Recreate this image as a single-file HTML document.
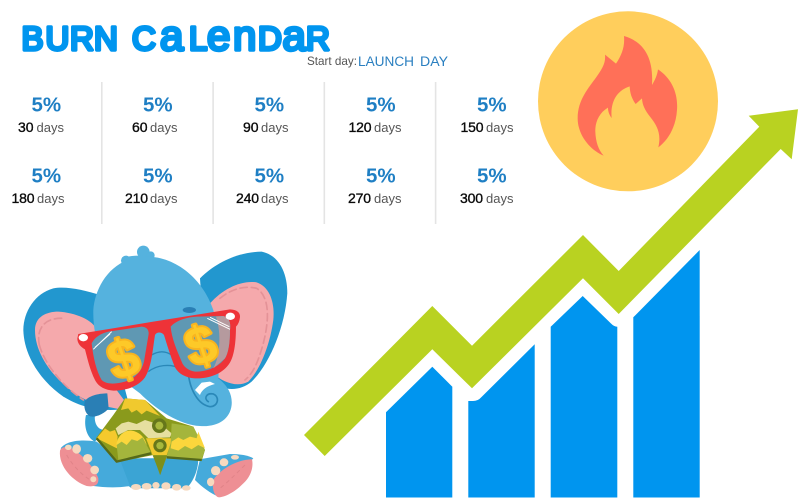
<!DOCTYPE html>
<html lang="en">
<head>
<meta charset="utf-8">
<title>Burn Calendar</title>
<style>
html,body{margin:0;padding:0;background:#fff;width:800px;height:500px;overflow:hidden}
svg{display:block;font-family:"Liberation Sans",sans-serif}
.pct{font-size:20.5px;font-weight:700;fill:#1f7fc4}
.num{font-size:14px;fill:#0a0a0a;stroke:#0a0a0a;stroke-width:.35px}
.unit{font-size:13px;fill:#555}
.big{font-size:33px}
.low{font-size:42px}
.dollar{font-size:160px;font-weight:700;fill:#fdc928;stroke:#f8b41f;stroke-width:12px;paint-order:stroke;stroke-linejoin:round}
</style>
</head>
<body>
<svg width="800" height="500" viewBox="0 0 800 500" xmlns="http://www.w3.org/2000/svg">
<rect width="800" height="500" fill="#fff"/>

<text y="50" fill="#0095ef" stroke="#0095ef" stroke-width="3.4" stroke-linejoin="round"><tspan class="big" x="21.5">B</tspan><tspan class="big" x="45.5">U</tspan><tspan class="big" x="70">R</tspan><tspan class="big" x="94">N</tspan> <tspan class="big" x="132">C</tspan><tspan class="low" x="160">a</tspan><tspan class="big" x="189">L</tspan><tspan class="low" x="207">e</tspan><tspan class="low" x="233">n</tspan><tspan class="big" x="258">D</tspan><tspan class="low" x="282.5">a</tspan><tspan class="big" x="306">R</tspan></text>
<text x="307" y="65" font-size="12" fill="#555" textLength="50" lengthAdjust="spacingAndGlyphs">Start day:</text>
<text y="66" font-size="13.5" fill="#2a7fc0"><tspan x="358" textLength="56" lengthAdjust="spacingAndGlyphs">LAUNCH</tspan> <tspan x="420" textLength="28" lengthAdjust="spacingAndGlyphs">DAY</tspan></text>

<g fill="#e4e4e4">
<rect x="101" y="82" width="1.6" height="142"/>
<rect x="212.3" y="82" width="1.6" height="142"/>
<rect x="323.5" y="82" width="1.6" height="142"/>
<rect x="434.8" y="82" width="1.6" height="142"/>
</g>

<g><text class="pct" x="31.5" y="111.5">5%</text><text class="num" x="18" y="132">30</text><text class="unit" x="36.5" y="132">days</text></g>
<g><text class="pct" x="143" y="111.5">5%</text><text class="num" x="132" y="132">60</text><text class="unit" x="150" y="132">days</text></g>
<g><text class="pct" x="254.5" y="111.5">5%</text><text class="num" x="243" y="132">90</text><text class="unit" x="261" y="132">days</text></g>
<g><text class="pct" x="366" y="111.5">5%</text><text class="num" x="348.5" y="132" textLength="23">120</text><text class="unit" x="374" y="132">days</text></g>
<g><text class="pct" x="477" y="111.5">5%</text><text class="num" x="460.5" y="132" textLength="23">150</text><text class="unit" x="486" y="132">days</text></g>

<g><text class="pct" x="31.5" y="182.7">5%</text><text class="num" x="11.5" y="203" textLength="23">180</text><text class="unit" x="37" y="203">days</text></g>
<g><text class="pct" x="143" y="182.7">5%</text><text class="num" x="125" y="203" textLength="23">210</text><text class="unit" x="150" y="203">days</text></g>
<g><text class="pct" x="254.5" y="182.7">5%</text><text class="num" x="236" y="203" textLength="23">240</text><text class="unit" x="261" y="203">days</text></g>
<g><text class="pct" x="366" y="182.7">5%</text><text class="num" x="348" y="203" textLength="23">270</text><text class="unit" x="374" y="203">days</text></g>
<g><text class="pct" x="477" y="182.7">5%</text><text class="num" x="460" y="203" textLength="23">300</text><text class="unit" x="486" y="203">days</text></g>

<g>
<circle cx="628" cy="101.3" r="90" fill="#ffce5c"/>
<path transform="translate(530 10) scale(.3333)" fill="#ff7058" d="M282 78C330 92 372 130 366 225C375 210 382 195 384 178C425 205 445 250 441 300C438 350 415 390 385 412C395 370 380 345 360 320C345 300 337 285 336 265L317 282C305 265 300 250 299 229C265 240 240 270 245 324C238 315 234 305 234 293C205 310 195 340 196 365C197 395 205 420 221 437C180 420 143 375 143 325C143 270 175 235 200 200C215 178 228 160 225 134L258 161C275 135 285 110 282 78Z"/>
</g>

<g fill="#0095ef">
<path d="M386 412.3L432.3 366.7L452.3 386.7V497.5H386Z"/>
<path d="M468.3 401H473Q478 401 481 397.5L534.7 344.3V497.5H468.3Z"/>
<path d="M550.7 326.7L582.7 296L611 323.5Q614 326.7 617.3 326.7V497.5H550.7Z"/>
<path d="M633.3 317.3L699.7 250V497.5H633.3Z"/>
</g>
<polygon fill="#b9d221" points="304,435 432.3,306 472,345.7 583,235 618.7,271 759.3,126.7 748.7,115.7 798,109.3 791.7,159.3 780.7,149 618.7,314 583,278.3 472,388.3 432.3,349.3 324.7,456"/>

<g transform="translate(0 230) scale(.3333)">
<path fill="#35a3d6" d="M258 555C250 590 262 625 285 635L315 600C290 600 282 575 285 555Z"/>
<path fill="#2297cf" d="M300 195C250 180 200 168 160 175C105 190 70 245 70 300C72 380 125 455 190 500C240 530 300 550 390 535Z"/>
<path fill="#f5a9ac" d="M105 300C105 260 140 245 175 245C225 248 280 270 290 300L290 400L372 510L355 537C320 530 270 520 235 497C170 455 105 380 105 300Z"/>
<path fill="#2297cf" d="M600 145C650 95 720 65 785 65C835 75 862 125 862 190C855 290 810 400 755 455C715 488 660 485 620 440Z"/>
<path fill="#f5a9ac" d="M630 220C670 175 725 150 770 157C810 170 825 220 820 270C810 345 780 420 745 455C710 475 660 455 630 420Z"/>
<path fill="none" stroke="#e49297" stroke-width="5" stroke-dasharray="22 12" stroke-linecap="round" d="M118 345C108 295 135 262 190 265M118 345C135 405 190 470 250 510M660 205C690 180 730 165 770 175C810 200 808 270 790 340C775 395 760 430 735 450"/>

<g transform="translate(150 450)">
<path fill="#3ba4d4" d="M205 235C205 270 220 310 245 325L410 325C430 305 445 270 445 235Z"/>
<path fill="#45aadb" d="M32 205C50 180 100 178 140 185L210 240L240 318C200 325 160 322 130 318Z"/>
<path fill="#45aadb" d="M450 238L540 222C570 222 595 226 610 235L510 352C480 340 455 320 435 300Z"/>
<path fill="#ee8f94" d="M30 212C35 198 55 198 70 208C100 228 135 265 145 295C147 315 135 322 110 318C70 305 25 260 30 212Z"/>
<path fill="#ee8f94" d="M606 238C612 265 600 295 575 315C555 335 525 352 505 352C490 345 486 320 490 300C510 270 555 240 606 238Z"/>
<path fill="none" stroke="#e08388" stroke-width="3" stroke-dasharray="12 10" d="M50 225C70 260 100 290 130 305M585 255C560 280 535 305 510 325"/>
<g fill="#f6d9bf">
<ellipse cx="55" cy="202" rx="10" ry="8"/><ellipse cx="80" cy="207" rx="13" ry="14"/><ellipse cx="113" cy="235" rx="14" ry="13"/><ellipse cx="134" cy="270" rx="13" ry="13"/><ellipse cx="130" cy="298" rx="9" ry="9"/>
<ellipse cx="258" cy="321" rx="15" ry="9"/><ellipse cx="290" cy="319" rx="15" ry="10"/><ellipse cx="318" cy="316" rx="11" ry="10"/><ellipse cx="348" cy="318" rx="14" ry="11"/><ellipse cx="380" cy="322" rx="14" ry="10"/><ellipse cx="409" cy="324" rx="13" ry="8"/>
<ellipse cx="555" cy="232" rx="12" ry="7"/><ellipse cx="522" cy="247" rx="13" ry="12"/><ellipse cx="497" cy="272" rx="14" ry="14"/><ellipse cx="482" cy="306" rx="11" ry="13"/>
</g>
<path fill="#8a9a1c" d="M225 55L285 60L350 115L430 140L465 210L455 243L350 232L330 285L310 225L200 247L138 175L190 105Z"/>
<path fill="#f0c92e" d="M225 55L285 60L330 108L310 100L290 92L275 103L260 90L245 98L235 85L213 90Z"/>
<path fill="#e6dfa0" d="M197 145L215 130L235 125L260 132L285 120L310 128L330 130L365 160L360 172L295 175L270 150L235 150L205 165Z"/>
<path fill="#f5c92d" d="M165 145L140 175L200 205L203 170L195 150L180 155Z"/>
<path fill="#fbd63c" d="M200 205C195 170 225 148 245 152C265 155 285 170 290 195Z"/>
<path fill="#a4b53c" d="M200 195L215 185L230 195L245 178L262 183L278 172L295 205L303 220L205 240Z"/>
<path fill="#f0c92e" d="M288 175H368L350 226H308Z"/>
<path fill="#7d8f1a" d="M308 226H350L331 285Z"/>
<path fill="#a4b53c" d="M365 130L430 140L465 210L455 238L350 230L362 190Z"/>
<path fill="#fbd63c" d="M365 185L385 172L400 180L420 170L440 175L445 155L465 205L445 195L425 208L405 198L385 212L362 205Z"/>
<path fill="none" stroke="#55691a" stroke-width="7" stroke-linejoin="round" d="M140 175L200 245L303 220M350 232L455 240"/>
<circle cx="328" cy="137" r="22" fill="#66771a"/>
<circle cx="328" cy="137" r="12" fill="#a8b83c"/>
<circle cx="330" cy="197" r="24" fill="#f0c92e"/>
<circle cx="330" cy="197" r="20" fill="#66771a"/>
<circle cx="330" cy="197" r="11" fill="#a8b83c"/>
<path fill="#2a7fb5" d="M105 62C120 45 150 40 172 40L176 85C165 100 135 115 118 108C105 100 100 80 105 62Z"/>
</g>

<g fill="#55b2de">
<circle cx="430" cy="66" r="19"/><circle cx="378" cy="92" r="15"/><circle cx="452" cy="76" r="12"/><ellipse cx="415" cy="92" rx="50" ry="15"/>
</g>
<path fill="#55b2de" d="M280 240C285 170 335 80 440 80C530 80 610 150 640 240C655 310 660 380 655 445C680 465 698 490 695 525C690 570 650 592 600 588C540 585 470 540 420 490L380 460C310 420 278 330 280 240Z"/>
<ellipse cx="568" cy="240" rx="20" ry="9" fill="#2a7fb5"/>
<path fill="none" stroke="#2a88b8" stroke-width="5" stroke-linecap="round" d="M565 430C570 480 595 525 630 530C655 530 660 500 640 492C620 488 610 505 625 515"/>
<path fill="none" stroke="#2a88b8" stroke-width="4" d="M455 375C480 360 500 365 515 375M445 425C470 405 510 400 540 415"/>
<path fill="#fff" d="M585 480L605 458L630 455L645 462C620 468 605 480 600 495Z"/>

<path fill="#ee3338" d="M235 312L460 275L690 238Q722 240 720 262Q718 280 708 290C708 340 702 385 685 405C665 432 625 447 585 445C555 443 535 430 525 412C510 375 500 340 492 315C485 305 470 305 465 315C458 360 455 410 435 442C415 470 375 483 340 482C315 480 295 470 285 450C270 420 262 385 255 358Q232 345 232 325Z"/>
<path fill="#5f98b3" d="M275 340C285 320 305 310 325 305L425 290Q447 292 446 312L432 395C425 425 405 445 375 455C350 462 320 465 305 450C290 425 280 385 275 340Z"/>
<path fill="#5f98b3" d="M512 290C530 270 560 262 590 260L670 258Q695 265 690 300C690 340 685 370 675 385C655 412 620 425 585 425C565 422 550 410 545 395C530 360 515 325 512 290Z"/>
<path fill="#b59a9e" d="M648 260L670 258Q695 265 690 300C690 340 685 370 675 385L640 415C660 380 665 310 648 260Z"/>
<ellipse cx="250" cy="323" rx="14" ry="11" fill="#fff"/>
<ellipse cx="691" cy="259" rx="14" ry="11" fill="#fff"/>
<path stroke="#fff" stroke-width="3" fill="none" d="M280 358L335 305M285 352L330 312M622 265L690 298M630 262L688 290"/>
<text x="370" y="441" text-anchor="middle" class="dollar" transform="rotate(-18 370 385)">$</text>
<text x="602" y="401" text-anchor="middle" class="dollar" transform="rotate(-18 602 345)">$</text>
</g>
</svg>
</body>
</html>
